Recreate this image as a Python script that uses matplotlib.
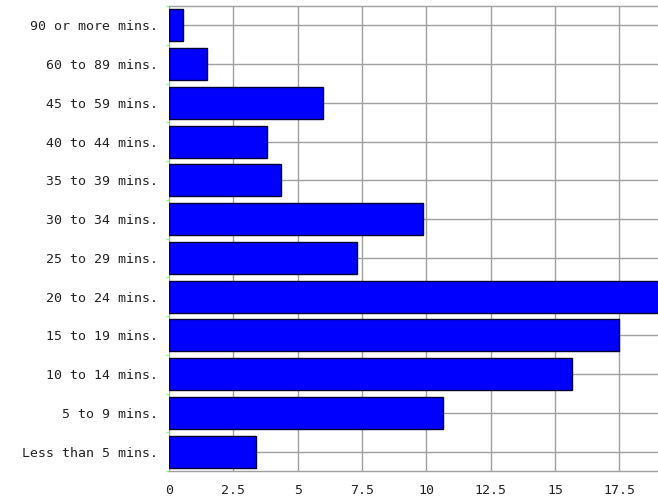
import matplotlib
matplotlib.use("Agg")
import matplotlib.pyplot as plt
import numpy as np

categories = ["Less than 5 mins.", "5 to 9 mins.", "10 to 14 mins.", "15 to 19 mins.",
              "20 to 24 mins.", "25 to 29 mins.", "30 to 34 mins.", "35 to 39 mins.",
              "40 to 44 mins.", "45 to 59 mins.", "60 to 89 mins.", "90 or more mins."]
values = [3.38, 10.66, 15.67, 17.49, 19.0, 7.3, 9.87, 4.35, 3.8, 6.0, 1.49, 0.56]
xticks = [0, 2.5, 5, 7.5, 10, 12.5, 15, 17.5]
xticklabels = ["0", "2.5", "5", "7.5", "10", "12.5", "15", "17.5"]

plt.rcParams['font.family'] = ['DejaVu Sans Mono', 'DejaVu Sans']

W, H = 658, 497
fig = plt.figure(figsize=(W / 100, H / 100), dpi=100)
ax = fig.add_axes([169 / W, 1 - 471 / H, (658 - 169) / W, (471 - 6) / H])

y = np.arange(len(categories))
ax.barh(y, values, height=0.82, color="#0000ff", edgecolor="#000033", linewidth=1.0, zorder=3)

ax.set_xlim(0, 19.0)
ax.set_ylim(-0.5, len(categories) - 0.5)
ax.set_xticks(xticks)
ax.set_xticklabels(xticklabels)
ax.set_yticks(y)
ax.set_yticklabels(categories)
ax.set_yticks(np.arange(-0.5, len(categories), 1.0), minor=True)

ax.grid(True, which="major", color="#a0a0a0", linewidth=1.0, zorder=0)
ax.tick_params(axis="both", which="major", length=0, labelsize=9.5, colors="#222222")
ax.tick_params(axis="x", pad=9)
ax.tick_params(axis="y", pad=8)
ax.tick_params(axis="y", which="minor", length=2, color="#80ff80", width=1)

for s in ["left", "right"]:
    ax.spines[s].set_visible(False)
for s in ["top", "bottom"]:
    ax.spines[s].set_color("#a0a0a0")
    ax.spines[s].set_linewidth(1.0)

fig.savefig("out.png", dpi=100)
